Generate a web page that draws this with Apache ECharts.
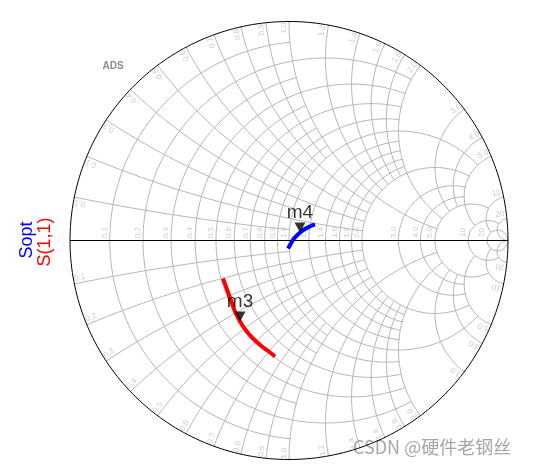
<!DOCTYPE html>
<html><head><meta charset="utf-8">
<script src="https://cdn.jsdelivr.net/npm/echarts@6/dist/echarts.min.js"></script>
<style>html,body{margin:0;padding:0;background:#fff}#c{width:550px;height:467px}</style>
</head><body><div id="c"></div>
<script>
// Smith chart grid values (normalized resistance / reactance)
const rTicks  = [0.1,0.2,0.3,0.4,0.5,0.6,0.7,0.8,0.9,1.0,1.2,1.4,1.6,1.8,2.0,3,4,5,10,20];
const rLimits = [1,2,1,2,1,2,1,2,1,5,2,2,2,2,5,5,5,10,20,Infinity];   // max |x| drawn per r circle
const xTicks  = [0.1,0.2,0.3,0.4,0.5,0.6,0.7,0.8,0.9,1.0,1.2,1.4,1.6,1.8,2.0,3,4,5,10,20];
const xLimits = [1,2,1,2,1,2,1,2,1,5,2,2,2,2,5,5,5,10,20,Infinity];   // max r drawn per x arc
const tickLabels = ['0.1','0.2','0.3','0.4','0.5','0.6','0.7','0.8','0.9','1.0','1.2','1.4','1.6','1.8','2.0','3.0','4.0','5.0','10','20'];

// Traces (reflection coefficient, real / imag)
const s11Re = [-0.3014,-0.2831,-0.2648,-0.2466,-0.2237,-0.1963,-0.1644,-0.1233,-0.0868,-0.0639];
const s11Im = [-0.1735,-0.2237,-0.2740,-0.3242,-0.3699,-0.4110,-0.4475,-0.4840,-0.5114,-0.5297];
const soptRe = [-0.0046,0.0091,0.0228,0.0457,0.0685,0.0959,0.1187];
const soptIm = [-0.0365,-0.0137,0.0091,0.0320,0.0502,0.0639,0.0731];
const markerNames = ['m3','m4'];
const markerRe = [-0.2237,0.0502];
const markerIm = [-0.3699,0.0365];

const R = 219; // pixels per unit (radius of chart)
function gam(r,x){const d=(r+1)*(r+1)+x*x;return [(r*r+x*x-1)/d,2*x/d];}
function rCircle(r,X){const p=[],T=Math.atan(X),N=300;for(let i=0;i<=N;i++){const t=-T+2*T*i/N;p.push(gam(r,Math.tan(t)));}return p;}
function xArc(x,Rm){const p=[],T=Math.atan(Rm),N=240;for(let i=0;i<=N;i++){const t=T*i/N;p.push(gam(Math.tan(t),x));}return p;}

const series=[];
const gridStyle={color:'#b4b4b4',width:1};
function addLine(data,style,z){series.push({type:'line',data:data,showSymbol:false,symbol:'none',silent:true,clip:false,lineStyle:style,z:z||1,animation:false});}
rTicks.forEach((r,i)=>addLine(rCircle(r,rLimits[i]),gridStyle));
xTicks.forEach((x,i)=>{addLine(xArc(x,xLimits[i]),gridStyle);addLine(xArc(-x,xLimits[i]),gridStyle);});
addLine(rCircle(0,Infinity),{color:'#000',width:1},3);
addLine([[-1,0],[1,0]],{color:'#000',width:1},3);

// labels
const labelData=[];
rTicks.forEach((r,i)=>{const g=(r-1)/(r+1);labelData.push({name:tickLabels[i],value:[g-5/R,8/R],label:{rotate:90}});});
xTicks.forEach((x,i)=>{
  [1,-1].forEach(s=>{
    const e=gam(0,s*x);const th=Math.atan2(e[1],e[0]);
    const rr=212.5/R, tg=5/R;
    let tx,ty,rot;
    if(s>0){tx=-Math.sin(th);ty=Math.cos(th);rot=th*180/Math.PI;}
    else{tx=Math.sin(th);ty=-Math.cos(th);rot=th*180/Math.PI+180;}
    labelData.push({name:tickLabels[i],value:[rr*Math.cos(th)+tg*tx,rr*Math.sin(th)+tg*ty],label:{rotate:rot}});
  });
});
series.push({type:'scatter',data:labelData,symbolSize:0.1,itemStyle:{color:'rgba(0,0,0,0)'},silent:true,z:2,animation:false,
  label:{show:true,position:'inside',formatter:p=>p.name,color:'#bcbcca',fontSize:8,fontFamily:'Arial'}});

series.push({type:'line',data:s11Re.map((v,i)=>[v,s11Im[i]]),smooth:0.4,showSymbol:false,symbol:'none',clip:false,lineStyle:{color:'#ff0000',width:4},z:5,animation:false});
series.push({type:'line',data:soptRe.map((v,i)=>[v,soptIm[i]]),smooth:0.4,showSymbol:false,symbol:'none',clip:false,lineStyle:{color:'#0000ff',width:4},z:5,animation:false});
const mk=markerNames.map((n,i)=>({name:n,value:[markerRe[i],markerIm[i]]}));
series.push({type:'scatter',data:mk,symbol:'triangle',symbolSize:[11,10],symbolRotate:180,symbolOffset:[0,-5],itemStyle:{color:'#000'},z:6,animation:false,silent:true});
series.push({type:'scatter',data:mk,symbolSize:0.1,itemStyle:{color:'rgba(0,0,0,0)'},z:7,animation:false,silent:true,
  label:{show:true,position:'inside',offset:[0,-20],formatter:p=>p.name,color:'#000',fontSize:19,fontFamily:'Arial'}});

const chart=echarts.init(document.getElementById('c'),null,{renderer:'canvas'});
chart.setOption({
  animation:false,
  grid:{left:70,top:21.5,width:438,height:438},
  xAxis:{type:'value',min:-1,max:1,show:false},
  yAxis:{type:'value',min:-1,max:1,show:false},
  series:series,
  graphic:[
    {type:'text',x:113,y:66,style:{text:'ADS',fill:'#8c8c8c',font:'bold 10px Arial',align:'center',verticalAlign:'middle'}},
    {type:'text',x:27,y:240,rotation:Math.PI/2,style:{text:'Sopt',fill:'#0000ff',font:'18px Arial',align:'center',verticalAlign:'middle'}},
    {type:'text',x:45,y:242,rotation:Math.PI/2,style:{text:'S(1,1)',fill:'#ff0000',font:'18px Arial',align:'center',verticalAlign:'middle'}},
    {type:'text',x:353,y:447,style:{text:'CSDN @硬件老钢丝',fill:'#a6a6a6',font:'18px "Noto Sans CJK SC", Arial',align:'left',verticalAlign:'middle'}}
  ]
});
</script></body></html>
